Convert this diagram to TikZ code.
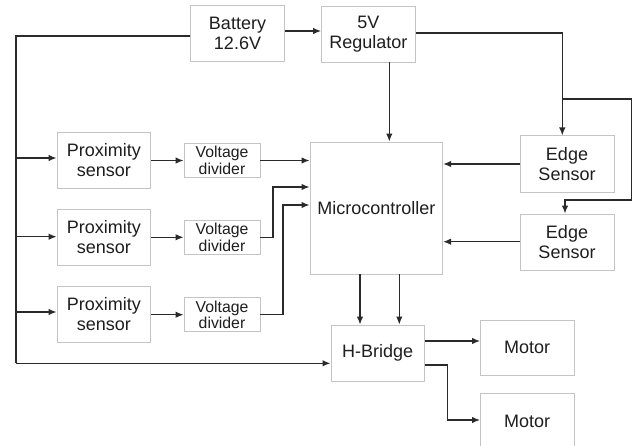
\documentclass[tikz,border=0pt]{standalone}
\usepackage{fontspec}
\setmainfont{Liberation Sans}
\usetikzlibrary{arrows.meta,calc}
\definecolor{linec}{HTML}{2A2A2A}
\definecolor{boxc}{HTML}{C4C4C4}
\definecolor{textc}{HTML}{1E1E1E}
\begin{document}
\begin{tikzpicture}[x=1pt,y=-1pt,
  blk/.style={draw=boxc,line width=0.9pt,rectangle,inner sep=0pt,align=center,text=textc,
    font=\fontsize{18}{20}\selectfont,minimum width=93.5pt,minimum height=56pt},
  vd/.style={blk,font=\fontsize{15.8}{16.5}\selectfont,minimum width=76pt,minimum height=34pt},
  wire/.style={draw=linec,line width=1.3pt},
  arr/.style={wire,-{Latex[length=8pt,width=6.5pt]}}]
\useasboundingbox (0,0) rectangle (636,446);
\fill[white] (0,0) rectangle (636,446);
% blocks
\node[blk] (bat) at (237.5,33) {Battery\\12.6V};
\node[blk] (reg) at (368.3,34) {5V\\Regulator};
\node[blk] (p1) at (103.8,160) {Proximity\\sensor};
\node[blk] (p2) at (103.8,237) {Proximity\\sensor};
\node[blk] (p3) at (103.8,314.3) {Proximity\\sensor};
\node[vd] (v1) at (222,160.5) {Voltage\\divider};
\node[vd] (v2) at (222,237.3) {Voltage\\divider};
\node[vd] (v3) at (222,314.7) {Voltage\\divider};
\node[blk,minimum width=132.7pt,minimum height=132pt] (mc) at (376.3,208) {Microcontroller};
\node[blk,minimum width=94pt,minimum height=56.7pt] (e1) at (567,164.3) {Edge\\Sensor};
\node[blk,minimum width=94pt] (e2) at (567,242) {Edge\\Sensor};
\node[blk] (hb) at (377.7,353) {H-Bridge};
\node[blk,minimum height=55.3pt] (m1) at (527.2,347.7) {Motor};
\node[blk,minimum height=55.3pt] (m2) at (527.2,421) {Motor};
% coordinates
\coordinate (bl) at (16,36);
\coordinate (bb) at (16,363.3);
\coordinate (rj) at (562.3,33);
\coordinate (jn) at (562.3,99);
\coordinate (jr) at (631.7,99);
\coordinate (jd) at (631.7,200);
\coordinate (jl) at (565,200);
\coordinate (k2) at (273,237.3);
\coordinate (k3) at (283,314.7);
\coordinate (hm) at (447.7,365);
% battery
\draw[arr] (bat.east |- 0,31) -- (reg.west |- 0,31);
\draw[wire] (bat.west |- bl) -- (bl) -- (bb);
\draw[arr] (bb) -- (hb.west |- bb);
\draw[arr] (16,158) -- (p1.west |- 0,158);
\draw[arr] (16,236.7) -- (p2.west |- 0,236.7);
\draw[arr] (16,312) -- (p3.west |- 0,312);
% proximity -> dividers
\draw[arr] (p1.east |- v1.west) -- (v1.west);
\draw[arr] (p2.east |- v2.west) -- (v2.west);
\draw[arr] (p3.east |- v3.west) -- (v3.west);
% dividers -> micro
\draw[arr] (v1.east) -- (mc.west |- v1.east);
\draw[arr] (v2.east) -- (k2) -- (273,187) -- (mc.west |- 0,187);
\draw[arr] (v3.east) -- (k3) -- (283,205) -- (mc.west |- 0,205);
% regulator
\draw[arr] (reg.south -| 389.3,0) -- (mc.north -| 389.3,0);
\draw[arr] (reg.east |- rj) -- (rj) -- (e1.north -| rj);
\draw[arr] (jn) -- (jr) -- (jd) -- (jl) -- (e2.north -| jl);
% edge sensors -> micro
\draw[arr] (e1.west |- 0,164) -- (mc.east |- 0,164);
\draw[arr] (e2.west |- 0,241.7) -- (mc.east |- 0,241.7);
% micro -> H-bridge
\draw[arr] (mc.south -| 360,0) -- (hb.north -| 360,0);
\draw[arr] (mc.south -| 399.3,0) -- (hb.north -| 399.3,0);
% H-bridge -> motors
\draw[arr] (hb.east |- 0,341) -- (m1.west |- 0,341);
\draw[arr] (hb.east |- hm) -- (hm) -- (447.7,420) -- (m2.west |- 0,420);
\end{tikzpicture}
\end{document}
